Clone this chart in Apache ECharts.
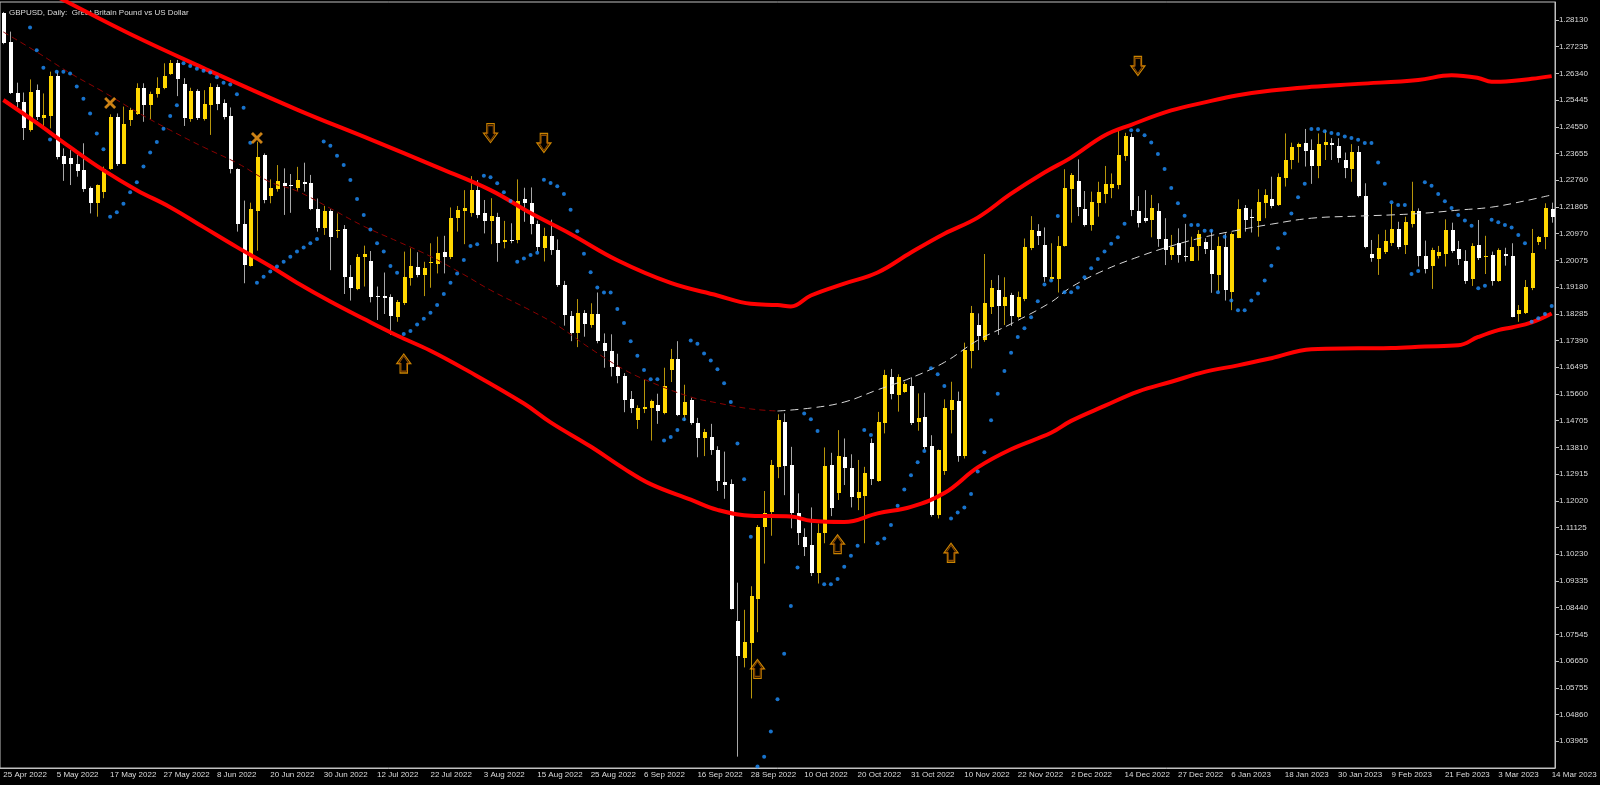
<!DOCTYPE html>
<html>
<head>
<meta charset="utf-8">
<title>GBPUSD Daily</title>
<script src="https://cdn.jsdelivr.net/npm/echarts@6/dist/echarts.min.js"></script>
<style>
  html, body { margin: 0; padding: 0; background: #000; }
  #chart { width: 1600px; height: 785px; }
</style>
</head>
<body>
<div id="chart"></div>
<script>
// daily bars, [open, high, low, close], 25 Apr 2022 .. 14 Mar 2023
var candles = [
  [1.2836,1.2840,1.2732,1.2736],[1.2740,1.2774,1.2565,1.2570],[1.2570,1.2603,1.2520,1.2539],[1.2539,1.2570,1.2411,1.2452],
  [1.2444,1.2614,1.2439,1.2573],[1.2580,1.2597,1.2478,1.2489],[1.2486,1.2567,1.2450,1.2495],[1.2491,1.2640,1.2450,1.2625],
  [1.2625,1.2640,1.2346,1.2355],[1.2357,1.2383,1.2274,1.2331],[1.2349,1.2377,1.2260,1.2331],[1.2331,1.2361,1.2288,1.2308],
  [1.2310,1.2400,1.2237,1.2246],[1.2249,1.2255,1.2165,1.2199],[1.2199,1.2262,1.2154,1.2260],[1.2238,1.2322,1.2216,1.2313],
  [1.2313,1.2497,1.2311,1.2489],[1.2489,1.2500,1.2324,1.2331],[1.2331,1.2523,1.2331,1.2463],[1.2478,1.2519,1.2458,1.2513],
  [1.2498,1.2601,1.2495,1.2586],[1.2586,1.2601,1.2472,1.2528],[1.2528,1.2573,1.2480,1.2564],[1.2566,1.2621,1.2553,1.2586],
  [1.2584,1.2668,1.2581,1.2625],[1.2632,1.2679,1.2629,1.2670],[1.2670,1.2679,1.2558,1.2617],[1.2597,1.2618,1.2458,1.2484],
  [1.2480,1.2586,1.2472,1.2575],[1.2575,1.2581,1.2478,1.2484],[1.2480,1.2578,1.2476,1.2530],[1.2528,1.2601,1.2428,1.2590],
  [1.2590,1.2597,1.2511,1.2532],[1.2534,1.2547,1.2480,1.2487],[1.2491,1.2520,1.2299,1.2313],[1.2313,1.2316,1.2104,1.2130],
  [1.2130,1.2208,1.1931,1.1992],[1.1989,1.2201,1.1987,1.2179],[1.2174,1.2405,1.2040,1.2355],[1.2361,1.2366,1.2199,1.2210],
  [1.2223,1.2279,1.2199,1.2251],[1.2246,1.2327,1.2238,1.2274],[1.2266,1.2316,1.2160,1.2258],[1.2260,1.2297,1.2167,1.2257],
  [1.2249,1.2321,1.2241,1.2277],[1.2271,1.2335,1.2238,1.2262],[1.2266,1.2294,1.2176,1.2181],[1.2181,1.2215,1.2104,1.2117],
  [1.2117,1.2190,1.2093,1.2173],[1.2173,1.2179,1.1975,1.2087],[1.2106,1.2165,1.2083,1.2109],[1.2113,1.2126,1.1895,1.1951],
  [1.1953,1.1992,1.1873,1.1914],[1.1912,1.2029,1.1908,1.2020],[1.2018,1.2057,1.1920,1.2029],[1.2007,1.2039,1.1867,1.1886],
  [1.1888,1.1920,1.1808,1.1884],[1.1888,1.1967,1.1828,1.1883],[1.1886,1.1894,1.1758,1.1821],[1.1817,1.1875,1.1802,1.1867],
  [1.1864,1.2037,1.1858,1.1951],[1.1947,1.2048,1.1923,1.1990],[1.1984,1.2035,1.1951,1.1959],[1.1959,1.2003,1.1888,1.1981],
  [1.1999,1.2065,1.1916,1.2001],[1.1994,1.2087,1.1964,1.2034],[1.2035,1.2090,1.1964,1.2020],[1.2018,1.2185,1.2012,1.2148],
  [1.2151,1.2190,1.2104,1.2176],[1.2174,1.2243,1.2062,1.2182],[1.2165,1.2290,1.2154,1.2243],[1.2243,1.2277,1.2149,1.2160],
  [1.2165,1.2210,1.2098,1.2140],[1.2140,1.2216,1.2062,1.2157],[1.2154,1.2167,1.2003,1.2067],[1.2068,1.2140,1.2048,1.2076],
  [1.2077,1.2132,1.2065,1.2074],[1.2076,1.2279,1.2065,1.2207],[1.2212,1.2251,1.2137,1.2199],[1.2200,1.2252,1.2095,1.2130],
  [1.2130,1.2141,1.2037,1.2052],[1.2049,1.2117,1.2004,1.2091],[1.2091,1.2144,1.2026,1.2043],[1.2043,1.2078,1.1919,1.1926],
  [1.1926,1.1939,1.1789,1.1825],[1.1821,1.1838,1.1737,1.1763],[1.1763,1.1878,1.1717,1.1831],[1.1831,1.1841,1.1752,1.1795],
  [1.1791,1.1864,1.1782,1.1828],[1.1828,1.1900,1.1730,1.1737],[1.1730,1.1763,1.1648,1.1704],[1.1704,1.1760,1.1619,1.1652],
  [1.1652,1.1695,1.1596,1.1619],[1.1619,1.1630,1.1499,1.1541],[1.1544,1.1570,1.1496,1.1513],[1.1473,1.1522,1.1443,1.1513],
  [1.1509,1.1609,1.1496,1.1518],[1.1513,1.1541,1.1404,1.1535],[1.1522,1.1561,1.1460,1.1502],[1.1496,1.1648,1.1492,1.1587],
  [1.1639,1.1711,1.1600,1.1678],[1.1678,1.1737,1.1486,1.1489],[1.1489,1.1591,1.1470,1.1532],[1.1539,1.1548,1.1457,1.1463],
  [1.1463,1.1480,1.1348,1.1411],[1.1411,1.1443,1.1352,1.1433],[1.1417,1.1460,1.1356,1.1374],[1.1374,1.1385,1.1235,1.1267],
  [1.1265,1.1367,1.1209,1.1254],[1.1257,1.1274,1.0838,1.0840],[1.0798,1.0928,1.0345,1.0681],[1.0674,1.0837,1.0644,1.0730],
  [1.0726,1.0916,1.0540,1.0883],[1.0874,1.1121,1.0762,1.1114],[1.1114,1.1235,1.0992,1.1160],[1.1163,1.1339,1.1085,1.1322],
  [1.1317,1.1492,1.1278,1.1472],[1.1467,1.1495,1.1221,1.1319],[1.1322,1.1383,1.1110,1.1160],[1.1160,1.1227,1.1054,1.1093],
  [1.1082,1.1110,1.1017,1.1048],[1.1054,1.1180,1.0950,1.0959],[1.0959,1.1126,1.0925,1.1095],[1.1095,1.1381,1.1060,1.1319],
  [1.1322,1.1363,1.1151,1.1177],[1.1229,1.1439,1.1205,1.1352],[1.1350,1.1411,1.1255,1.1313],[1.1311,1.1358,1.1180,1.1214],
  [1.1210,1.1339,1.1171,1.1233],[1.1218,1.1316,1.1060,1.1296],[1.1397,1.1411,1.1255,1.1274],[1.1270,1.1500,1.1266,1.1467],
  [1.1464,1.1641,1.1428,1.1624],[1.1616,1.1644,1.1542,1.1560],[1.1557,1.1626,1.1501,1.1616],[1.1568,1.1601,1.1564,1.1592],
  [1.1587,1.1616,1.1456,1.1464],[1.1467,1.1562,1.1437,1.1481],[1.1482,1.1564,1.1374,1.1383],[1.1386,1.1422,1.1149,1.1155],
  [1.1155,1.1374,1.1143,1.1372],[1.1303,1.1542,1.1289,1.1512],[1.1508,1.1601,1.1428,1.1540],[1.1536,1.1568,1.1333,1.1352],
  [1.1352,1.1732,1.1344,1.1707],[1.1705,1.1855,1.1646,1.1830],[1.1791,1.1830,1.1707,1.1755],[1.1741,1.2029,1.1735,1.1864],
  [1.1850,1.1942,1.1828,1.1914],[1.1908,1.1958,1.1758,1.1855],[1.1855,1.1951,1.1791,1.1884],[1.1892,1.1899,1.1788,1.1821],
  [1.1819,1.1903,1.1813,1.1884],[1.1877,1.2081,1.1871,1.2051],[1.2048,1.2156,1.2042,1.2109],[1.2107,1.2129,1.2059,1.2089],
  [1.2059,1.2118,1.1936,1.1953],[1.1946,1.2065,1.1940,1.1951],[1.1946,1.2089,1.1900,1.2056],[1.2056,1.2313,1.2054,1.2249],
  [1.2246,1.2300,1.2134,1.2294],[1.2272,1.2346,1.2156,1.2188],[1.2179,1.2240,1.2121,1.2126],[1.2126,1.2238,1.2107,1.2204],
  [1.2199,1.2271,1.2154,1.2238],[1.2229,1.2324,1.2199,1.2262],[1.2251,1.2299,1.2216,1.2262],[1.2260,1.2445,1.2246,1.2361],
  [1.2357,1.2435,1.2341,1.2424],[1.2422,1.2433,1.2156,1.2176],[1.2174,1.2223,1.2118,1.2134],[1.2149,1.2243,1.2134,1.2141],
  [1.2143,1.2227,1.2085,1.2182],[1.2174,1.2199,1.2053,1.2078],[1.2078,1.2149,1.1992,1.2042],[1.2026,1.2093,1.2009,1.2054],
  [1.2067,1.2115,1.2000,1.2026],[1.2023,1.2130,1.2004,1.2020],[1.2007,1.2087,1.2007,1.2054],[1.2056,1.2109,1.2007,1.2095],
  [1.2070,1.2082,1.2029,1.2045],[1.2042,1.2109,1.1899,1.1962],[1.1959,1.2087,1.1903,1.2056],[1.2054,1.2098,1.1873,1.1908],
  [1.1903,1.2101,1.1841,1.2095],[1.2082,1.2212,1.2082,1.2180],[1.2182,1.2193,1.2104,1.2143],[1.2152,1.2179,1.2101,1.2150],
  [1.2138,1.2246,1.2087,1.2204],[1.2201,1.2246,1.2149,1.2227],[1.2214,1.2288,1.2182,1.2190],[1.2193,1.2299,1.2190,1.2286],
  [1.2283,1.2433,1.2255,1.2344],[1.2344,1.2402,1.2313,1.2386],[1.2386,1.2402,1.2335,1.2396],[1.2402,1.2448,1.2322,1.2375],
  [1.2378,1.2413,1.2264,1.2324],[1.2324,1.2433,1.2283,1.2398],[1.2394,1.2445,1.2344,1.2405],[1.2400,1.2417,1.2344,1.2395],
  [1.2391,1.2417,1.2335,1.2350],[1.2344,1.2369,1.2283,1.2316],[1.2313,1.2397,1.2271,1.2372],[1.2372,1.2391,1.2219,1.2223],
  [1.2224,1.2266,1.2048,1.2054],[1.2029,1.2076,1.2003,1.2015],[1.2012,1.2095,1.1959,1.2048],[1.2037,1.2110,1.2029,1.2073],
  [1.2065,1.2199,1.2056,1.2113],[1.2113,1.2137,1.2045,1.2054],[1.2059,1.2154,1.2029,1.2135],[1.2128,1.2271,1.2118,1.2173],
  [1.2173,1.2182,1.1987,1.2023],[1.2023,1.2074,1.1964,1.1979],[1.1989,1.2050,1.1912,1.2042],[1.2023,1.2056,1.2014,1.2037],
  [1.2029,1.2145,1.1987,1.2109],[1.2109,1.2134,1.2033,1.2039],[1.2045,1.2073,1.1992,1.2011],[1.2007,1.2042,1.1929,1.1940],
  [1.1944,1.2065,1.1922,1.2056],[1.2059,1.2143,1.2009,1.2015],[1.2020,1.2090,1.1962,1.2022],[1.2026,1.2037,1.1923,1.1940],
  [1.1940,1.2048,1.1936,1.2042],[1.2029,1.2050,1.1990,1.2023],[1.2023,1.2065,1.1817,1.1819],[1.1827,1.1858,1.1802,1.1841],
  [1.1830,1.1942,1.1828,1.1920],[1.1914,1.2113,1.1908,1.2031],[1.2070,1.2089,1.2059,1.2087],[1.2087,1.2199,1.2045,1.2182],
  [1.2179,1.2201,1.2134,1.2152]
];

// parabolic SAR, one dot per bar (none for the first four)
var sar = [
  null,null,null,null,1.2788,1.2712,1.2653,1.2413,1.2640,1.2640,1.2634,1.2590,1.2549,1.2500,1.2433,1.2380,
  1.2154,1.2169,1.2197,1.2236,1.2269,1.2322,1.2369,1.2404,1.2449,1.2491,1.2527,1.2668,1.2659,1.2650,1.2643,1.2637,
  1.2621,1.2603,1.2597,1.2564,1.2519,1.2402,1.1933,1.1953,1.1970,1.1987,1.2003,1.2020,1.2037,1.2051,1.2065,1.2079,
  1.2406,1.2392,1.2358,1.2327,1.2277,1.2213,1.2160,1.2111,1.2065,1.2037,1.1989,1.1966,1.1761,1.1771,1.1793,1.1812,
  1.1832,1.1858,1.1895,1.1933,1.1964,1.2009,1.2056,1.2062,1.2291,1.2286,1.2266,1.2236,1.2207,1.2003,1.2014,1.2026,
  1.2033,1.2278,1.2267,1.2256,1.2230,1.2177,1.2105,1.2030,1.1968,1.1917,1.1900,1.1900,1.1845,1.1798,1.1737,1.1688,
  1.1640,1.1609,1.1609,1.1404,1.1416,1.1439,1.1475,1.1739,1.1728,1.1696,1.1672,1.1643,1.1596,1.1533,1.1394,1.1274,
  1.1082,1.0312,1.0345,1.0429,1.0537,1.0690,1.0850,1.0979,1.1495,1.1475,1.1436,1.0923,1.0923,1.0940,1.0981,1.1018,
  1.1052,1.1439,1.1423,1.1060,1.1076,1.1121,1.1186,1.1240,1.1288,1.1331,1.1369,1.1646,1.1626,1.1587,1.1143,1.1163,
  1.1180,1.1225,1.1300,1.1365,1.1472,1.1561,1.1637,1.1698,1.1751,1.1780,1.1817,1.1871,1.1927,1.1940,1.2156,1.1901,
  1.1901,1.1917,1.1951,1.1981,1.2012,1.2037,1.2063,1.2085,1.2130,1.2444,1.2444,1.2427,1.2403,1.2364,1.2314,1.2250,
  1.2199,1.2157,1.2126,1.2126,1.2107,1.2107,1.1901,1.2087,1.1873,1.1841,1.1841,1.1873,1.1897,1.1940,1.1990,1.2048,
  1.2098,1.2165,1.2219,1.2264,1.2448,1.2448,1.2440,1.2434,1.2431,1.2423,1.2418,1.2412,1.2401,1.2401,1.2336,1.2264,
  1.2202,1.2193,1.2193,1.1962,1.1972,1.2269,1.2258,1.2230,1.2206,1.2183,1.2160,1.2141,1.2124,1.1914,1.1923,1.2144,
  1.2135,1.2126,1.2118,1.2093,1.2065,1.1802,1.1814,1.1828,1.1855
];

// envelope, [bar, value]
var upperBand = [
  [0,1.2984],[9,1.2880],[19,1.2766],[30,1.2652],[44,1.2513],[55,1.2413],[65,1.2320],[73,1.2243],[79,1.2166],
  [85,1.2096],[92,1.2008],[100,1.1932],[107,1.1890],[112,1.1862],[116,1.1858],[118,1.1853],[121,1.1890],
  [126,1.1930],[131,1.1967],[136,1.2034],[141,1.2097],[146,1.2151],[151,1.2231],[156,1.2302],[160,1.2352],
  [165,1.2426],[169,1.2462],[175,1.2510],[180,1.2537],[185,1.2561],[190,1.2577],[196,1.2589],[203,1.2599],
  [212,1.2612],[217,1.2628],[221,1.2619],[223,1.2606],[226,1.2609],[229,1.2616],[232,1.2625]
];
var lowerBand = [
  [0,1.2545],[5,1.2468],[10,1.2387],[15,1.2310],[20,1.2243],[25,1.2186],[30,1.2119],[35,1.2052],[40,1.1988],
  [44,1.1933],[49,1.1870],[54,1.1812],[59,1.1756],[64,1.1705],[69,1.1645],[78,1.1528],[82,1.1465],[88,1.1384],
  [93,1.1310],[97,1.1258],[103,1.1206],[107,1.1172],[112,1.1152],[118,1.1150],[121,1.1135],[126,1.1131],
  [131,1.1160],[136,1.1182],[141,1.1228],[146,1.1314],[151,1.1375],[157,1.1430],[160,1.1470],[165,1.1520],
  [170,1.1568],[175,1.1601],[180,1.1634],[185,1.1656],[190,1.1680],[196,1.1710],[203,1.1713],[208,1.1714],
  [213,1.1719],[218,1.1723],[221,1.1751],[224,1.1774],[226,1.1783],[229,1.1800],[232,1.1830]
];
// centre line: falling part (dark red) and rising part (white)
var midFalling = [
  [0,1.2773],[5,1.2706],[10,1.2635],[15,1.2572],[20,1.2505],[25,1.2444],[30,1.2387],[35,1.2334],[40,1.2270],
  [44,1.2240],[49,1.2182],[54,1.2122],[59,1.2072],[64,1.2021],[69,1.1960],[73,1.1908],[79,1.1840],[83,1.1790],
  [88,1.1712],[93,1.1642],[97,1.1600],[103,1.1550],[107,1.1530],[112,1.1510],[116,1.1503]
];
var midRising = [
  [116,1.1503],[121,1.1513],[126,1.1533],[131,1.1574],[136,1.1614],[141,1.1666],[146,1.1740],[151,1.1795],
  [157,1.1868],[160,1.1918],[165,1.1975],[170,1.2019],[175,1.2056],[180,1.2086],[185,1.2109],[190,1.2129],
  [196,1.2149],[203,1.2156],[208,1.2160],[213,1.2166],[218,1.2176],[223,1.2186],[228,1.2207],[232,1.2227]
];

// signal marks
var upArrows = [[60,1.1662],[113,1.0639],[125,1.1057],[142,1.1028]];
var downArrows = [[73,1.2434],[81,1.2401],[170,1.2659]];
var crossMarks = [[16,1.2535],[38,1.2418]];

// one label every 8 bars
var tickLabels = ['25 Apr 2022','5 May 2022','17 May 2022','27 May 2022','8 Jun 2022','20 Jun 2022',
  '30 Jun 2022','12 Jul 2022','22 Jul 2022','3 Aug 2022','15 Aug 2022','25 Aug 2022','6 Sep 2022',
  '16 Sep 2022','28 Sep 2022','10 Oct 2022','20 Oct 2022','31 Oct 2022','10 Nov 2022','22 Nov 2022',
  '2 Dec 2022','14 Dec 2022','27 Dec 2022','6 Jan 2023','18 Jan 2023','30 Jan 2023','9 Feb 2023',
  '21 Feb 2023','3 Mar 2023','14 Mar 2023'];
var categories = candles.map(function (c, i) { return String(i); });

var FONT = '"Liberation Sans", Arial, sans-serif';
var ARROW = 'path://M7.5,0 L15,10 L11.5,10 L11.5,20 L3.5,20 L3.5,10 L0,10 Z';
var CROSS = 'path://M0,2 L2,0 L6,4 L10,0 L12,2 L8,6 L12,10 L10,12 L6,8 L2,12 L0,10 L4,6 Z';

var myChart = echarts.init(document.getElementById('chart'));

function renderCandle(params, api) {
  var i = api.value(0);
  var o = api.value(1), h = api.value(2), l = api.value(3), c = api.value(4);
  var pH = api.coord([i, h]), pL = api.coord([i, l]);
  var pO = api.coord([i, o]), pC = api.coord([i, c]);
  var x = Math.round(pH[0]);
  var up = c >= o;
  var top = Math.round(Math.min(pO[1], pC[1]));
  var bot = Math.round(Math.max(pO[1], pC[1]));
  return {
    type: 'group',
    children: [
      { type: 'line', shape: { x1: x + 0.5, y1: pH[1], x2: x + 0.5, y2: pL[1] },
        style: { stroke: up ? '#b8960b' : '#a8a8a8', lineWidth: 1 } },
      { type: 'rect', shape: { x: x - 1, y: top, width: 4, height: Math.max(1, bot - top) },
        style: { fill: up ? '#ffd700' : '#ffffff' } }
    ]
  };
}

// hollow arrow drawn twice: bright outer edge, darker inner edge
function arrowSeries(data, rotate) {
  return [
    { type: 'scatter', data: data, symbol: ARROW, symbolRotate: rotate, symbolSize: [14, 19], z: 6,
      itemStyle: { color: 'rgba(0,0,0,0)', borderColor: '#ffa500', borderWidth: 1.2 } },
    { type: 'scatter', data: data, symbol: ARROW, symbolRotate: rotate, symbolSize: [10, 15], z: 6,
      itemStyle: { color: 'rgba(0,0,0,0)', borderColor: '#b35c00', borderWidth: 1 } }
  ];
}

myChart.setOption({
  backgroundColor: '#000000',
  animation: false,
  title: {
    text: 'GBPUSD, Daily:  Great Britain Pound vs US Dollar',
    left: 4, top: 4, z: 1,
    textStyle: { color: '#dcdcdc', fontSize: 8, fontWeight: 'normal', fontFamily: FONT }
  },
  grid: { left: 0, right: 45, top: 2, bottom: 17, show: true, borderColor: '#c0c0c0', borderWidth: 1 },
  xAxis: {
    type: 'category',
    data: categories,
    boundaryGap: true,
    axisLine: { lineStyle: { color: '#c0c0c0' } },
    axisTick: { interval: 7, alignWithLabel: true, length: 4, lineStyle: { color: '#c0c0c0' } },
    axisLabel: {
      interval: 7, align: 'left', margin: 3, color: '#dcdcdc', fontSize: 8, fontFamily: FONT,
      formatter: function (v, i) { return tickLabels[i / 8] || ''; }
    },
    splitLine: { show: false }
  },
  yAxis: {
    type: 'value',
    position: 'right',
    min: 1.0307, max: 1.28733, interval: 0.00895,
    axisLine: { show: true, lineStyle: { color: '#c0c0c0' } },
    axisTick: { show: true, length: 4, lineStyle: { color: '#c0c0c0' } },
    axisLabel: {
      margin: 4, color: '#dcdcdc', fontSize: 8, fontFamily: FONT,
      showMinLabel: false, showMaxLabel: false,
      formatter: function (v) { return v.toFixed(5); }
    },
    splitLine: { show: false }
  },
  series: [
    {
      type: 'custom', name: 'GBPUSD', clip: true, z: 2,
      data: candles.map(function (c, i) { return [i, c[0], c[1], c[2], c[3]]; }),
      encode: { x: 0, y: [1, 2, 3, 4] },
      renderItem: renderCandle
    },
    { type: 'line', data: midFalling, smooth: 0.4, symbol: 'none', z: 3,
      lineStyle: { color: '#8b0000', width: 1, type: [6, 4] } },
    { type: 'line', data: midRising, smooth: 0.4, symbol: 'none', z: 3,
      lineStyle: { color: '#d8d8d8', width: 1, type: [8, 5] } },
    { type: 'line', data: upperBand, smooth: 0.4, symbol: 'none', z: 4,
      lineStyle: { color: '#ff0000', width: 4 } },
    { type: 'line', data: lowerBand, smooth: 0.4, symbol: 'none', z: 4,
      lineStyle: { color: '#ff0000', width: 4 } },
    { type: 'scatter', data: sar.map(function (v, i) { return [i, v]; }), symbolSize: 4, z: 5,
      itemStyle: { color: '#1e90ff' } },
    { type: 'scatter', data: crossMarks, symbol: CROSS, symbolSize: 12, z: 6,
      itemStyle: { color: '#ffa31a' } }
  ].concat(arrowSeries(upArrows, 0), arrowSeries(downArrows, 180))
});
</script>
</body>
</html>
